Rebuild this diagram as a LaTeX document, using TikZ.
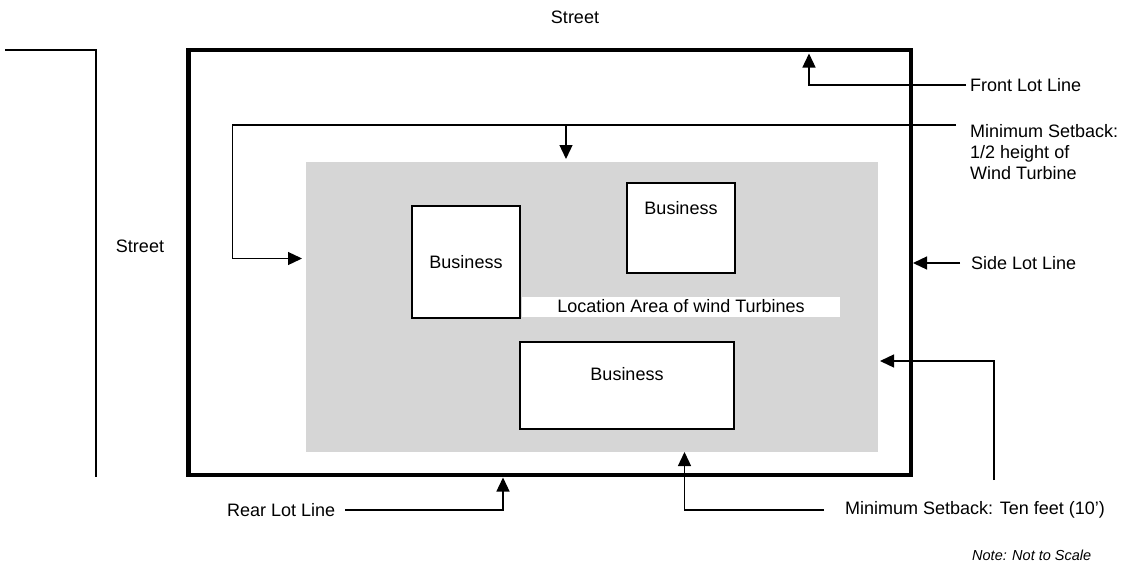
\documentclass[tikz,border=0pt]{standalone}
\usepackage{fontspec}
\setmainfont{Liberation Sans}
\usetikzlibrary{positioning,arrows.meta}

\begin{document}
\begin{tikzpicture}[x=1pt, y=-1pt,
    txt/.style={font=\fontsize{18}{21}\selectfont, inner sep=2pt},
    lbl/.style={txt, anchor=west},
    biz/.style={draw, line width=2.3pt, fill=white, inner sep=0pt},
    lead/.style={line width=1.3pt, -{Triangle[length=14pt,width=13pt]}}]
      \useasboundingbox (0,0) rectangle (1144,565);
      \fill[black!16] (306,162) rectangle (878,452);
      \draw[line width=4.5pt] (188.5,50) rectangle (911,475);
      \draw[line width=1.8pt] (5,50) -- (96,50) -- (96,477);

      \node[txt] (streetTop) at (575,17) {Street};
      \node[txt] (streetLeft) at (140,246) {Street};

      \node[biz, minimum width=107.5pt, minimum height=112pt] (bizA) at (466,262) {};
      \node[biz, minimum width=108pt, minimum height=90pt] (bizB) at (681,228) {};
      \node[biz, minimum width=214pt, minimum height=87pt] (bizC) at (627,385.5) {};
      \node[txt] (bizAtxt) at (bizA.center) {Business};
      \node[txt, below=26pt of bizB.north, anchor=center] (bizBtxt) {Business};
      \node[txt, below=33pt of bizC.north, anchor=center] (bizCtxt) {Business};
      \node[txt, fill=white, minimum width=318pt, minimum height=20pt, inner sep=0pt] (area) at (681,306.5) {Location Area of wind Turbines};

      \node[lbl] (front) at (968,85) {Front Lot Line};
      \node[lbl, align=left] (half) at (968,152) {Minimum Setback:\\1/2 height of\\Wind Turbine};
      \node[lbl] (side) at (969,263) {Side Lot Line};
      \node[lbl] (ten) at (843,510) {Minimum Setback: Ten feet (10')};
      \node[lbl] (rear) at (225,510) {Rear Lot Line};
      \node[lbl, font=\fontsize{14.5}{17}\selectfont\itshape] (note) at (970,555) {Note: Not to Scale};

      \coordinate (frontEnd) at (966,85);
      \coordinate (frontTip) at (809,53.5);
      \coordinate (halfEnd) at (956,125);
      \coordinate (halfElbow) at (232.5,125);
      \coordinate (halfLeft) at (302,258.5);
      \coordinate (halfDrop) at (566,125);
      \coordinate (halfTop) at (566,159);
      \coordinate (sideEnd) at (960,263);
      \coordinate (sideTip) at (913,263);
      \coordinate (tenFoot) at (994,480);
      \coordinate (tenRight) at (880,361);
      \coordinate (tenEnd) at (824,510);
      \coordinate (tenBottom) at (684.5,452);
      \coordinate (rearEnd) at (345,510);
      \coordinate (rearTip) at (503,477.5);

      \draw[lead] (frontEnd) -| (frontTip);
      \draw[lead] (halfEnd) -- (halfElbow) |- (halfLeft);
      \draw[lead] (halfDrop) -- (halfTop);
      \draw[lead] (sideEnd) -- (sideTip);
      \draw[lead] (tenFoot) |- (tenRight);
      \draw[lead] (tenEnd) -| (tenBottom);
      \draw[lead] (rearEnd) -| (rearTip);
    \end{tikzpicture}
\end{document}
